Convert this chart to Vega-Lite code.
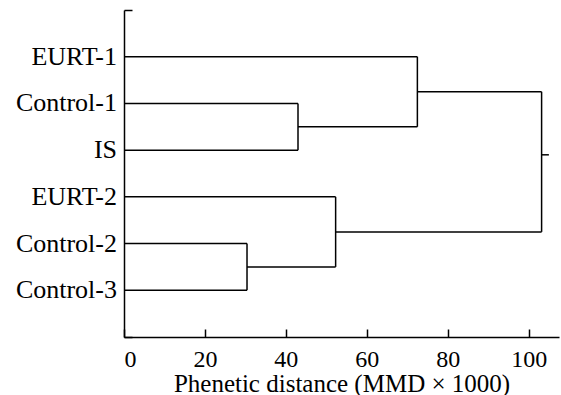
{
  "$schema": "https://vega.github.io/schema/vega-lite/v6.json",
  "width": 435,
  "height": 327,
  "autosize": {"type": "none"},
  "padding": {"left": 124, "top": 10, "right": 2, "bottom": 58},
  "background": "white",
  "config": {"view": {"stroke": null}, "font": "Liberation Serif"},
  "datasets": {
    "segments": [
      {"x": 0, "x2": 72.5, "y": 1, "y2": 1},
      {"x": 0, "x2": 43, "y": 2, "y2": 2},
      {"x": 0, "x2": 43, "y": 3, "y2": 3},
      {"x": 43, "x2": 43, "y": 2, "y2": 3},
      {"x": 43, "x2": 72.5, "y": 2.5, "y2": 2.5},
      {"x": 72.5, "x2": 72.5, "y": 1, "y2": 2.5},
      {"x": 72.5, "x2": 103.2, "y": 1.75, "y2": 1.75},
      {"x": 0, "x2": 52.3, "y": 4, "y2": 4},
      {"x": 0, "x2": 30.4, "y": 5, "y2": 5},
      {"x": 0, "x2": 30.4, "y": 6, "y2": 6},
      {"x": 30.4, "x2": 30.4, "y": 5, "y2": 6},
      {"x": 30.4, "x2": 52.3, "y": 5.5, "y2": 5.5},
      {"x": 52.3, "x2": 52.3, "y": 4, "y2": 5.5},
      {"x": 52.3, "x2": 103.2, "y": 4.75, "y2": 4.75},
      {"x": 103.2, "x2": 103.2, "y": 1.75, "y2": 4.75},
      {"x": 103.2, "x2": 105, "y": 3.1, "y2": 3.1}
    ],
    "leaves": [
      {"leaf": "EURT-1", "order": 1},
      {"leaf": "Control-1", "order": 2},
      {"leaf": "IS", "order": 3},
      {"leaf": "EURT-2", "order": 4},
      {"leaf": "Control-2", "order": 5},
      {"leaf": "Control-3", "order": 6}
    ]
  },
  "layer": [
    {
      "data": {"name": "segments"},
      "mark": {"type": "rule", "color": "black", "strokeWidth": 1.5},
      "encoding": {
        "x": {
          "field": "x",
          "type": "quantitative",
          "scale": {"domain": [0, 107.5], "nice": false, "zero": false},
          "axis": {
            "values": [0, 20, 40, 60, 80, 100],
            "title": "Phenetic distance (MMD × 1000)",
            "grid": false,
            "domainColor": "black",
            "domainWidth": 1.5,
            "tickColor": "black",
            "tickWidth": 1.5,
            "tickSize": -8,
            "labelPadding": 18,
            "labelFont": "Liberation Serif",
            "labelFontSize": 24,
            "labelColor": "black",
            "titleFont": "Liberation Serif",
            "titleFontSize": 25,
            "titleFontWeight": "normal",
            "titleColor": "black",
            "titlePadding": 0
          }
        },
        "x2": {"field": "x2"},
        "y": {
          "field": "y",
          "type": "quantitative",
          "scale": {"domain": [0, 7], "reverse": true, "nice": false, "zero": false},
          "axis": {
            "values": [0, 7],
            "title": null,
            "grid": false,
            "labels": false,
            "domainColor": "black",
            "domainWidth": 1.5,
            "tickColor": "black",
            "tickWidth": 1.5,
            "tickSize": -8
          }
        },
        "y2": {"field": "y2"}
      }
    },
    {
      "data": {"name": "leaves"},
      "mark": {
        "type": "text",
        "align": "right",
        "baseline": "middle",
        "dx": -7,
        "fontSize": 26,
        "font": "Liberation Serif",
        "color": "black"
      },
      "encoding": {
        "x": {"datum": 0, "type": "quantitative"},
        "y": {"field": "order", "type": "quantitative"},
        "text": {"field": "leaf", "type": "nominal"}
      }
    }
  ]
}
